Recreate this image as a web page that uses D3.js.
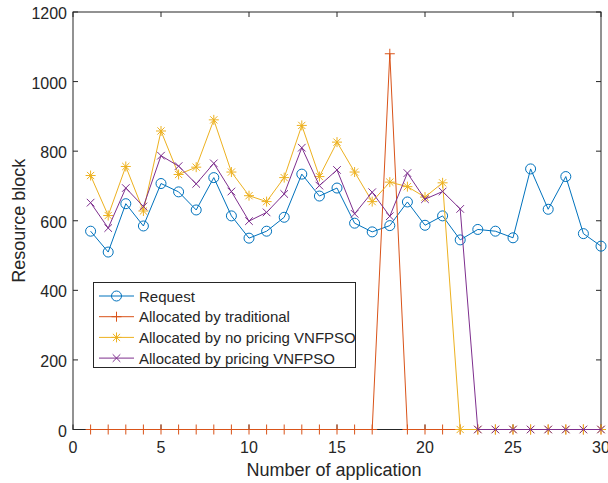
<!DOCTYPE html>
<html>
<head>
<meta charset="utf-8">
<script src="https://cdn.jsdelivr.net/npm/d3@7"></script>
<style>
  body { margin: 0; background: #fff; }
  svg text { font-family: "Liberation Sans", Arial, sans-serif; fill: #262626; }
</style>
</head>
<body>
<svg id="chart" width="608" height="483"></svg>
<script>
// data
var apps = d3.range(1, 31);
var request = [570, 510, 649, 585, 707, 683, 631, 724, 614, 550,
               570, 610, 734, 671, 694, 593, 568, 586, 654, 587,
               614, 545, 575, 570, 551, 749, 633, 727, 563, 527];
var traditional = [0, 0, 0, 0, 0, 0, 0, 0, 0, 0,
                   0, 0, 0, 0, 0, 0, 0, 1080, 0, 0,
                   0, 0, 0, 0, 0, 0, 0, 0, 0, 0];
var noPricing = [730, 615, 756, 628, 858, 733, 754, 890, 740, 672,
                 655, 724, 874, 727, 826, 740, 655, 711, 698, 668,
                 709, 0, 0, 0, 0, 0, 0, 0, 0, 0];
var pricing = [652, 579, 694, 641, 787, 757, 706, 765, 684, 599,
               624, 677, 810, 701, 746, 620, 682, 613, 737, 662,
               684, 634, 0, 0, 0, 0, 0, 0, 0, 0];
var seriesNames = ['Request', 'Allocated by traditional', 'Allocated by no pricing VNFPSO', 'Allocated by pricing VNFPSO'];
var xTicks = [0, 5, 10, 15, 20, 25, 30];
var yTicks = [0, 200, 400, 600, 800, 1000, 1200];

var svg = d3.select('#chart'),
	plotLeft = 73, plotRight = 601, plotTop = 12, plotBottom = 429.5,
	axisColor = '#262626';

var x = d3.scaleLinear().domain([0, 30]).range([plotLeft, plotRight]);
var y = d3.scaleLinear().domain([0, 1200]).range([plotBottom, plotTop]);

var series = [
	{name: seriesNames[0], values: request, color: '#0072BD', marker: 'circle'},
	{name: seriesNames[1], values: traditional, color: '#D95319', marker: 'plus'},
	{name: seriesNames[2], values: noPricing, color: '#EDB120', marker: 'star'},
	{name: seriesNames[3], values: pricing, color: '#7E2F8E', marker: 'cross'}
];

function drawMarker(g, type, color) {
	if (type === 'circle') {
		g.append('circle').attr('r', 5).attr('fill', 'none').attr('stroke', color).attr('stroke-width', 1);
	} else if (type === 'plus') {
		g.append('path').attr('d', 'M-5,0H5M0,-5V5').attr('stroke', color).attr('stroke-width', 1);
	} else if (type === 'star') {
		g.append('path').attr('d', 'M-5,0H5M0,-5V5M-3.6,-3.6L3.6,3.6M-3.6,3.6L3.6,-3.6').attr('stroke', color).attr('stroke-width', 1);
	} else {
		g.append('path').attr('d', 'M-3.8,-3.8L3.8,3.8M-3.8,3.8L3.8,-3.8').attr('stroke', color).attr('stroke-width', 1);
	}
}

// axis box
svg.append('rect')
	.attr('x', plotLeft).attr('y', plotTop)
	.attr('width', plotRight - plotLeft).attr('height', plotBottom - plotTop)
	.attr('fill', 'none').attr('stroke', axisColor).attr('stroke-width', 1);

// ticks (inward, on all four sides)
var tickG = svg.append('g').attr('stroke', axisColor).attr('stroke-width', 1);
xTicks.forEach(function (t) {
	tickG.append('line').attr('x1', x(t)).attr('x2', x(t)).attr('y1', plotBottom).attr('y2', plotBottom - 5);
	tickG.append('line').attr('x1', x(t)).attr('x2', x(t)).attr('y1', plotTop).attr('y2', plotTop + 5);
});
yTicks.forEach(function (t) {
	tickG.append('line').attr('x1', plotLeft).attr('x2', plotLeft + 5).attr('y1', y(t)).attr('y2', y(t));
	tickG.append('line').attr('x1', plotRight).attr('x2', plotRight - 5).attr('y1', y(t)).attr('y2', y(t));
});

svg.append('g').selectAll('text').data(xTicks).enter().append('text')
	.attr('x', function (d) { return x(d); })
	.attr('y', plotBottom + 23)
	.attr('text-anchor', 'middle')
	.attr('font-size', 16)
	.text(function (d) { return d; });

svg.append('g').selectAll('text').data(yTicks).enter().append('text')
	.attr('x', plotLeft - 6)
	.attr('y', function (d) { return y(d) + 7; })
	.attr('text-anchor', 'end')
	.attr('font-size', 16)
	.text(function (d) { return d; });

svg.append('text')
	.attr('x', (plotLeft + plotRight) / 2 - 3).attr('y', 476)
	.attr('text-anchor', 'middle').attr('font-size', 18)
	.text('Number of application');

svg.append('text')
	.attr('transform', 'translate(25,' + ((plotTop + plotBottom) / 2) + ') rotate(-90)')
	.attr('text-anchor', 'middle').attr('font-size', 18)
	.text('Resource block');

// series lines + markers
var line = d3.line()
	.x(function (d, i) { return x(apps[i]); })
	.y(function (d) { return y(d); });

series.forEach(function (s) {
	var g = svg.append('g');
	g.append('path')
		.attr('d', line(s.values))
		.attr('fill', 'none')
		.attr('stroke', s.color)
		.attr('stroke-width', 1);
	s.values.forEach(function (v, i) {
		var m = g.append('g').attr('transform', 'translate(' + x(apps[i]) + ',' + y(v) + ')');
		drawMarker(m, s.marker, s.color);
	});
});

// legend
var legend = svg.append('g');
legend.append('rect')
	.attr('x', 93.5).attr('y', 282.5)
	.attr('width', 262).attr('height', 85)
	.attr('fill', '#fff').attr('stroke', '#262626').attr('stroke-width', 1);
series.forEach(function (s, i) {
	var ly = 296 + i * 20.7;
	legend.append('line')
		.attr('x1', 99).attr('x2', 134).attr('y1', ly).attr('y2', ly)
		.attr('stroke', s.color).attr('stroke-width', 1);
	var m = legend.append('g').attr('transform', 'translate(116.5,' + ly + ')');
	drawMarker(m, s.marker, s.color);
	legend.append('text')
		.attr('x', 139).attr('y', ly + 5.5)
		.attr('font-size', 15)
		.attr('fill', '#000')
		.text(s.name);
});
</script>
</body>
</html>
